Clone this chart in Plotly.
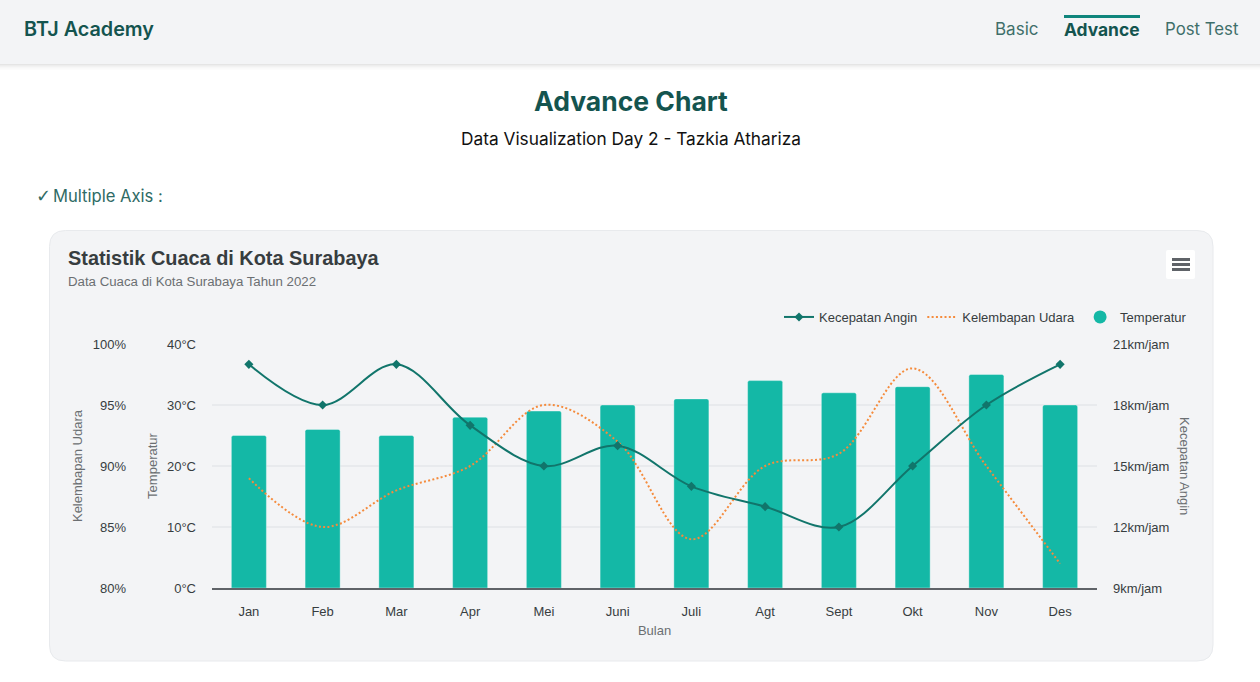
import plotly.graph_objects as go

W, H = 1260, 682

bulan = ["Jan", "Feb", "Mar", "Apr", "Mei", "Juni", "Juli", "Agt", "Sept", "Okt", "Nov", "Des"]
temperatur = [25, 26, 25, 28, 29, 30, 31, 34, 32, 33, 35, 30]
kelembapan = [89, 85, 88, 90, 95, 92, 84, 90, 91, 98, 90, 82]
angin = [20, 18, 20, 17, 15, 16, 14, 13, 12, 15, 18, 20]

HEAD = "#14544f"
CHART_FONT = "Liberation Sans"
PAGE_FONT = "Inter"


def fx(px):
    return px / W


def fy(py):
    return 1 - py / H


def rrect(x0, y0, x1, y1, r):
    pts = []
    X = lambda v: f"{fx(v):.5f}"
    Y = lambda v: f"{fy(v):.5f}"
    pts.append(f"M{X(x0 + r)},{Y(y0)}")
    pts.append(f"L{X(x1 - r)},{Y(y0)} Q{X(x1)},{Y(y0)} {X(x1)},{Y(y0 + r)}")
    pts.append(f"L{X(x1)},{Y(y1 - r)} Q{X(x1)},{Y(y1)} {X(x1 - r)},{Y(y1)}")
    pts.append(f"L{X(x0 + r)},{Y(y1)} Q{X(x0)},{Y(y1)} {X(x0)},{Y(y1 - r)}")
    pts.append(f"L{X(x0)},{Y(y0 + r)} Q{X(x0)},{Y(y0)} {X(x0 + r)},{Y(y0)} Z")
    return " ".join(pts)


def box(x0, y0, x1, y1, color):
    return dict(type="rect", xref="paper", yref="paper", x0=fx(x0), x1=fx(x1), y0=fy(y1), y1=fy(y0),
                fillcolor=color, line_width=0, layer="below")


def label(text, x, y, size, color, family=PAGE_FONT, anchor="left", weight=400, angle=0):
    return dict(text=text, x=fx(x), y=fy(y), xref="paper", yref="paper", showarrow=False, borderpad=0,
                borderwidth=0, textangle=angle, xanchor=anchor, yanchor="middle",
                font=dict(family=family, size=size, color=color, weight=weight))


shapes = []
for i, alpha in enumerate([0.10, 0.07, 0.05, 0.03, 0.02, 0.01]):
    shapes.append(box(0, 64 + i, W, 65 + i, f"rgba(0,0,0,{alpha})"))
shapes.append(box(0, 0, W, 64, "#f3f4f6"))
shapes.append(box(1064, 15, 1140, 18, "#0f857c"))
shapes.append(dict(type="path", path=rrect(49.5, 230.5, 1213, 661, 16), xref="paper", yref="paper",
                   fillcolor="#f3f4f6", line=dict(color="#e8eaed", width=1), layer="below"))
shapes.append(dict(type="path", path=rrect(1166, 250, 1195, 279, 2), xref="paper", yref="paper",
                   fillcolor="#ffffff", line_width=0, layer="below"))
for y in (258, 263, 268):
    shapes.append(box(1172, y, 1190, y + 3, "#5f6368"))

annotations = [
    label("BTJ Academy", 24, 29, 19.8, HEAD, weight=600),
    label("Basic", 995, 29, 17, "#3f6f6a"),
    label("Advance", 1064, 30, 17.4, HEAD, weight=700),
    label("Post Test", 1165, 29, 16.8, "#3f6f6a"),
    label("Advance Chart", 631, 101, 26.5, HEAD, anchor="center", weight=700),
    label("Data Visualization Day 2 - Tazkia Athariza", 631, 138, 17.3, "#111111", anchor="center"),
    label("✓", 36, 196, 18, "#2f6b65", family="DejaVu Sans"),
    label("Multiple Axis :", 53, 196.5, 16.6, "#2f6b65"),
    label("Statistik Cuaca di Kota Surabaya", 68, 258, 19.9, "#373d3f", family=CHART_FONT, weight=700),
    label("Data Cuaca di Kota Surabaya Tahun 2022", 68, 281, 13.25, "#6b6f72", family=CHART_FONT),
    label("Kecepatan Angin", 1184, 466, 13, "#6b6f72", family=CHART_FONT, anchor="center", angle=90),
]

fig = go.Figure()
fig.add_trace(go.Bar(x=bulan, y=temperatur, name="Temperatur", yaxis="y", showlegend=False, width=0.475,
                     marker=dict(color="#14b8a6", cornerradius=2, line=dict(color="rgba(255,255,255,0.35)", width=1))))
fig.add_trace(go.Scatter(x=bulan, y=angin, name="Kecepatan Angin", yaxis="y3", mode="lines+markers",
                         line=dict(color="#11756b", width=2, shape="spline", smoothing=1.0),
                         marker=dict(symbol="diamond", size=7, color="#11756b")))
fig.add_trace(go.Scatter(x=bulan, y=kelembapan, name="Kelembapan Udara", yaxis="y2", mode="lines",
                         line=dict(color="#f58b3c", width=2, dash="2px,2.3px", shape="spline", smoothing=1.0)))
fig.add_trace(go.Scatter(x=[bulan[0]], y=[None], name="Temperatur", yaxis="y", mode="markers",
                         marker=dict(symbol="circle", size=13, color="#14b8a6")))

tick = dict(family=CHART_FONT, size=13, color="#373d3f")
title = dict(family=CHART_FONT, size=13, color="#6b6f72")
dom = [fy(588), fy(344)]

fig.update_layout(
    width=W, height=H, margin=dict(l=0, r=0, t=0, b=0, pad=0, autoexpand=False), autosize=False,
    paper_bgcolor="#ffffff", plot_bgcolor="rgba(0,0,0,0)",
    shapes=shapes, annotations=annotations, hovermode=False, bargap=0.5,
    xaxis=dict(domain=[fx(212), fx(1097)], type="category", categoryorder="array", categoryarray=bulan,
               range=[-0.5, 11.5], showline=True, linecolor="#5f6368", linewidth=2, showgrid=False,
               tickfont=tick, ticks="", ticklabelstandoff=10, title=dict(text="Bulan", font=title, standoff=8)),
    yaxis=dict(domain=dom, range=[0, 40], dtick=10, ticksuffix="°C", tickfont=tick, showgrid=True,
               gridcolor="#e8eaed", gridwidth=2, zeroline=False, ticks="", ticklabelstandoff=15,
               title=dict(text="Temperatur", font=title, standoff=6)),
    yaxis2=dict(domain=dom, range=[80, 100], dtick=5, ticksuffix="%", tickfont=tick, showgrid=False,
                zeroline=False, overlaying="y", anchor="free", side="left", position=fx(126), ticks="",
                title=dict(text="Kelembapan Udara", font=title, standoff=6)),
    yaxis3=dict(domain=dom, range=[9, 21], dtick=3, ticksuffix="km/jam", tickfont=tick, showgrid=False,
                zeroline=False, overlaying="y", anchor="x", side="right", ticks="", ticklabelstandoff=15),
    legend=dict(orientation="h", x=fx(1192), xanchor="right", y=fy(317), yanchor="middle",
                bgcolor="rgba(0,0,0,0)", font=tick, itemwidth=30, traceorder="normal"),
    font=dict(family=CHART_FONT),
)

fig.write_html("out.html", config=dict(displayModeBar=False),
               post_script="document.body.style.margin='0';document.body.style.overflow='hidden';")
